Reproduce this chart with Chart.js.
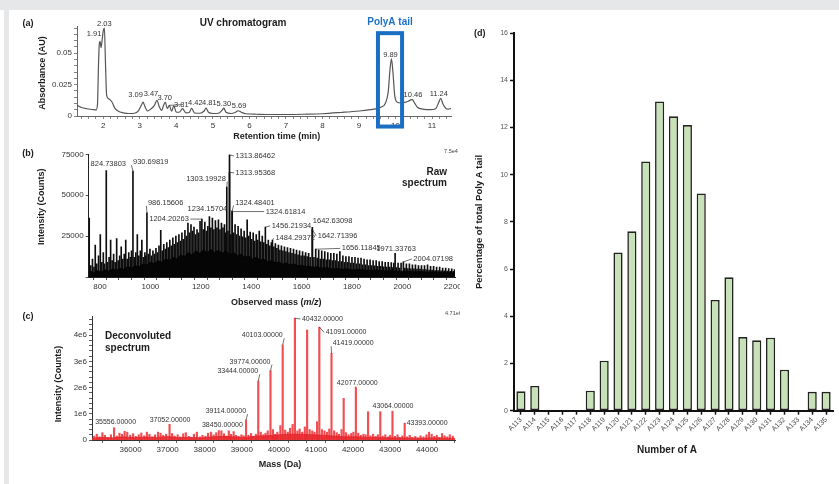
<!DOCTYPE html>
<html>
<head>
<meta charset="utf-8">
<script src="https://cdn.jsdelivr.net/npm/chart.js@4.4.1/dist/chart.umd.min.js"></script>
<style>
  html, body { margin: 0; padding: 0; background: #fff; }
  body { width: 839px; height: 484px; position: relative; overflow: hidden; }
  #band { position: absolute; left: 0; top: 0; width: 839px; height: 10px; background: #e6e7e9; }
  #strip { position: absolute; left: 4px; top: 10px; width: 5px; height: 474px; background: #e6e7e9; }
  canvas { position: absolute; }
</style>
</head>
<body>
<div id="band"></div>
<div id="strip"></div>
<canvas id="cA" width="460" height="135" style="left:0;top:10px;width:460px;height:135px"></canvas>
<canvas id="cB" width="460" height="165" style="left:0;top:145px;width:460px;height:165px"></canvas>
<canvas id="cC" width="460" height="174" style="left:0;top:310px;width:460px;height:174px"></canvas>
<canvas id="cD" width="379" height="474" style="left:460px;top:10px;width:379px;height:474px"></canvas>
<script>
// ---------------- (a) UV chromatogram ----------------
const uvTime = [1.28, 1.40, 1.55, 1.70, 1.80, 1.84, 1.87, 1.89, 1.91, 1.94, 1.97, 2.00, 2.03, 2.06, 2.09, 2.13, 2.19, 2.25, 2.31, 2.40,
  2.55, 2.70, 2.85, 2.96, 3.04, 3.09, 3.14, 3.21, 3.30, 3.40, 3.47, 3.53, 3.60, 3.65, 3.70, 3.75, 3.81, 3.87, 3.93, 4.00,
  4.08, 4.17, 4.26, 4.35, 4.42, 4.50, 4.65, 4.76, 4.81, 4.88, 5.00, 5.15, 5.25, 5.30, 5.36, 5.50, 5.62, 5.69, 5.78, 5.90,
  6.20, 6.60, 7.00, 7.50, 8.00, 8.50, 9.00, 9.40, 9.60, 9.72, 9.80, 9.85, 9.89, 9.93, 9.98, 10.05, 10.15, 10.25, 10.35, 10.42,
  10.46, 10.52, 10.60, 10.75, 10.95, 11.10, 11.18, 11.24, 11.30, 11.38, 11.45, 11.52];
const uvAbs = [0.0085, 0.0068, 0.0058, 0.0052, 0.0048, 0.0090, 0.0420, 0.0570, 0.0595, 0.0545, 0.0610, 0.0680, 0.0700, 0.0420, 0.0170, 0.0140, 0.0128, 0.0105, 0.0065, 0.0040,
  0.0025, 0.0020, 0.0022, 0.0040, 0.0085, 0.0110, 0.0075, 0.0040, 0.0055, 0.0085, 0.0125, 0.0075, 0.0045, 0.0085, 0.0110, 0.0060, 0.0085, 0.0038, 0.0080, 0.0030,
  0.0030, 0.0058, 0.0025, 0.0028, 0.0060, 0.0024, 0.0022, 0.0040, 0.0062, 0.0030, 0.0020, 0.0022, 0.0045, 0.0062, 0.0030, 0.0020, 0.0030, 0.0042, 0.0030, 0.0018,
  0.0014, 0.0012, 0.0012, 0.0014, 0.0018, 0.0028, 0.0040, 0.0055, 0.0070, 0.0100, 0.0190, 0.0370, 0.0455, 0.0350, 0.0160, 0.0110, 0.0105, 0.0108, 0.0118, 0.0128,
  0.0130, 0.0105, 0.0070, 0.0055, 0.0050, 0.0058, 0.0105, 0.0140, 0.0095, 0.0060, 0.0055, 0.0060];
const uvPeakTimes = [1.91, 2.03, 3.09, 3.47, 3.70, 3.81, 4.42, 4.81, 5.30, 5.69, 9.89, 10.46, 11.24];
const uvTimeTickLabels = ['2', '3', '4', '5', '6', '7', '8', '9', '10', '11'];
const uvAbsTickLabels = ['0', '0.025', '0.05'];
const polyAWindow = [9.52, 10.18];

// ---------------- (b) raw mass spectrum ----------------
const rawSticks = [
  [757,36000],[763,7000],[770,11000],[776,6000],[781,19500],[787,8000],[794,13000],[801,26000],[807,9000],[813,15000],
  [818,8000],[824.73803,65000],[830,9000],[836,12000],[842,22500],[848,10000],[854,14000],[860,9000],[866,23500],[872,10000],
  [878,13000],[884,18500],[890,11000],[896,14000],[902,22500],[908,11000],[914,15000],[920,12000],[925,16000],[930.69819,64800],
  [936,12000],[942,15000],[948,26000],[954,13000],[960,16000],[966,22500],[972,12000],[978,15000],[982,13000],[986.15606,39200],
  [992,14000],[998,17000],[1004,13000],[1010,16000],[1016,14000],[1022,17500],[1028,15000],[1034,19000],[1041,28500],[1047,16000],
  [1053,20000],[1059,17000],[1065,21000],[1071,18000],[1077,22500],[1083,19000],[1089,24000],[1095,20000],[1101,25000],[1107,21000],
  [1113,26000],[1119,22000],[1125,27000],[1131,23000],[1137,28500],[1143,25000],[1149,33000],[1155,27000],[1161,32000],[1167,28000],
  [1173,30500],[1179,26000],[1185,29000],[1191,27000],[1197,34000],[1204.20263,35400],[1210,29000],[1216,33500],[1222,28000],[1228,31000],
  [1234.15704,37000],[1240,30000],[1246,36000],[1252,29000],[1258,34500],[1264,30000],[1270,35000],[1276,29000],[1282,33000],[1288,30000],
  [1294,32000],[1298,27000],[1303.19928,55000],[1308,28000],[1313.86462,74600],[1313.95368,64000],[1319,26000],[1324.48401,40500],[1324.61814,40000],[1330,27000],
  [1336,32000],[1342,26000],[1348,31000],[1354,25000],[1360,29500],[1366,24500],[1372,28000],[1378,24000],[1384,35000],[1390,25000],
  [1396,27500],[1402,23000],[1408,27000],[1414,22000],[1420,26000],[1426,22500],[1432,28000],[1438,21500],[1444,25000],[1450,21000],
  [1456.21934,30500],[1462,20000],[1468,22500],[1474,19000],[1480,21000],[1484.29372,22500],[1490,18500],[1496,20500],[1502,17500],[1508,19500],
  [1514,16500],[1520,19000],[1526,16000],[1532,18500],[1538,15500],[1544,18000],[1550,15000],[1556,17500],[1562,14500],[1568,17000],
  [1574,14000],[1580,16500],[1586,13500],[1592,16000],[1598,13000],[1604,15500],[1610,13000],[1616,15000],[1622,12500],[1628,14500],
  [1634,12000],[1642.63098,30300],[1642.71396,29000],[1649,12000],[1656.11845,17000],[1662,11500],[1668,16500],[1674,11000],[1680,16000],[1686,11000],
  [1692,15500],[1698,10500],[1704,15000],[1710,10500],[1716,14500],[1722,10000],[1728,14500],[1734,10000],[1740,14000],[1746,9500],
  [1752,15500],[1758,9500],[1764,13000],[1770,9000],[1776,12500],[1782,9000],[1788,12500],[1794,8500],[1800,12000],[1806,8500],
  [1812,12000],[1818,8000],[1824,11500],[1830,8000],[1836,11500],[1842,7500],[1848,11000],[1854,7500],[1860,10500],[1866,7000],
  [1872,10500],[1878,7000],[1884,10000],[1890,6800],[1896,10000],[1902,6500],[1908,9500],[1914,6500],[1920,9500],[1926,6200],
  [1932,9000],[1938,6000],[1944,9000],[1950,6000],[1956,8800],[1962,5800],[1966,8500],[1971.33763,14400],[1977,5800],[1983,8500],
  [1989,5500],[1995,8500],[2004.07198,9200],[2010,5500],[2016,8000],[2022,5200],[2028,8000],[2034,5000],[2040,7500],[2046,5000],
  [2052,7500],[2058,4800],[2064,7000],[2070,4800],[2076,7000],[2082,4500],[2088,7000],[2094,4500],[2100,7500],[2106,4200],
  [2112,6500],[2118,4200],[2124,6500],[2130,4000],[2136,6000],[2142,4000],[2148,6000],[2154,3800],[2160,5500],[2166,3800],
  [2172,5500],[2178,3600],[2184,5200],[2190,3500],[2196,5000],[2202,3500],[2207,4500]
];
const rawFloor = [
  [755,1500],[765,3500],[775,2500],[790,4000],[805,3000],[820,4500],[835,3500],[850,5000],[865,4200],[880,5500],
  [895,4800],[910,6500],[925,5500],[940,7000],[955,6200],[970,8000],[985,7200],[1000,9000],[1015,8200],[1030,10000],
  [1045,9200],[1060,11000],[1075,10200],[1090,12000],[1105,11200],[1120,13500],[1135,12500],[1150,15000],[1165,13500],[1180,16000],
  [1195,14500],[1210,16500],[1225,15000],[1240,17000],[1255,15000],[1270,16500],[1285,14500],[1300,16000],[1315,13500],[1330,15000],
  [1345,13000],[1360,14000],[1375,12000],[1390,13000],[1405,11000],[1420,12000],[1435,10500],[1450,11000],[1465,9500],[1480,10000],
  [1495,8800],[1510,9000],[1525,8000],[1540,8500],[1555,7500],[1570,8000],[1585,7000],[1600,7200],[1615,6500],[1630,6800],
  [1645,6000],[1660,6300],[1680,5500],[1700,5800],[1720,5000],[1740,5300],[1760,4700],[1780,5000],[1800,4400],[1830,4700],
  [1860,4100],[1890,4300],[1920,3800],[1950,4000],[1980,3500],[2010,3700],[2040,3200],[2070,3400],[2100,3000],[2130,3200],
  [2160,2800],[2190,3000],[2209,2600]
];
const rawLabelMz = ['824.73803', '930.69819', '986.15606', '1204.20263', '1234.15704', '1303.19928', '1313.86462', '1313.95368',
  '1324.48401', '1324.61814', '1456.21934', '1484.29372', '1642.63098', '1642.71396', '1656.11845', '1971.33763', '2004.07198'];
const rawMzTickLabels = ['800', '1000', '1200', '1400', '1600', '1800', '2000', '2200'];
const rawCountTickLabels = ['25000', '50000', '75000'];

// ---------------- (c) deconvoluted spectrum ----------------
const deconvPeaks = [[35556,470000],[37052,600000],[38450,350000],[39114,760000],[39444,2250000],[39774,2650000],[40103,3630000],
  [40432,4650000],[40762,4200000],[41091,4310000],[41419,3310000],[41748,1590000],[42077,2020000],[42406,1080000],[42735,1080000],
  [43064,1100000],[43393,640000]];
const deconvNoise = [
  [35020,150000],[35090,220000],[35160,120000],[35240,280000],[35310,180000],[35390,100000],[35470,200000],[35630,150000],[35700,260000],[35770,220000],
  [35840,330000],[35910,300000],[35990,180000],[36070,240000],[36140,140000],[36220,200000],[36290,270000],[36370,160000],[36440,300000],[36510,220000],
  [36590,120000],[36660,200000],[36740,300000],[36810,260000],[36880,180000],[36960,220000],[37120,250000],[37190,150000],[37270,200000],[37340,120000],
  [37420,240000],[37490,280000],[37570,140000],[37640,100000],[37710,220000],[37790,300000],[37870,120000],[37940,180000],[38020,150000],[38090,260000],
  [38170,300000],[38240,200000],[38310,280000],[38380,360000],[38520,240000],[38590,150000],[38650,350000],[38710,220000],[38780,320000],[38840,180000],
  [38910,140000],[38990,200000],[39050,160000],[39180,180000],[39250,250000],[39310,140000],[39380,220000],[39510,300000],[39580,200000],[39640,260000],
  [39700,350000],[39840,400000],[39900,220000],[39960,300000],[40040,550000],[40170,380000],[40240,300000],[40300,450000],[40370,600000],[40500,350000],
  [40560,420000],[40630,300000],[40700,500000],[40830,400000],[40900,350000],[40960,300000],[41030,700000],[41160,400000],[41230,350000],[41300,300000],
  [41360,420000],[41490,350000],[41560,280000],[41620,220000],[41690,400000],[41810,280000],[41880,200000],[41950,250000],[42010,300000],[42140,260000],
  [42210,180000],[42280,220000],[42340,200000],[42470,160000],[42540,220000],[42610,140000],[42670,200000],[42800,150000],[42870,200000],[42940,120000],
  [43000,180000],[43130,140000],[43200,200000],[43260,100000],[43330,160000],[43460,120000],[43530,180000],[43600,100000],[43680,140000],[43750,80000],
  [43820,160000],[43900,120000],[43980,200000],[44050,300000],[44120,220000],[44190,140000],[44260,180000],[44330,100000],[44400,250000],[44470,160000],
  [44540,120000],[44610,200000],[44690,150000]
];
const deconvFloor = [[34960,60000],[35200,100000],[35500,80000],[35800,120000],[36100,90000],[36400,110000],[36700,100000],[37000,130000],
  [37300,90000],[37600,100000],[37900,80000],[38200,120000],[38500,140000],[38800,120000],[39100,100000],[39400,150000],[39700,160000],
  [40000,200000],[40300,220000],[40600,220000],[40900,200000],[41200,180000],[41500,150000],[41800,120000],[42100,120000],[42400,100000],
  [42700,90000],[43000,80000],[43300,80000],[43600,70000],[43900,70000],[44200,80000],[44500,70000],[44750,60000]];
const deconvLabelMass = [35556, 37052, 38450, 39114, 39444, 39774, 40103, 40432, 41091, 41419, 42077, 43064, 43393];
const deconvLabelText = ['35556.00000', '37052.00000', '38450.00000', '39114.00000', '33444.00000', '39774.00000', '40103.00000',
  '40432.00000', '41091.00000', '41419.00000', '42077.00000', '43064.00000', '43393.00000'];
const massTickLabels = ['36000', '37000', '38000', '39000', '40000', '41000', '42000', '43000', '44000'];
const deconvCountTickLabels = ['0', '1e6', '2e6', '3e6', '4e6'];
const deconvCountTickValues = [0, 1e6, 2e6, 3e6, 4e6];

// ---------------- (d) poly(A) length distribution ----------------
const polyACategories = ['A113', 'A114', 'A115', 'A116', 'A117', 'A118', 'A119', 'A120', 'A121', 'A122', 'A123', 'A124',
  'A125', 'A126', 'A127', 'A128', 'A129', 'A130', 'A131', 'A132', 'A133', 'A134', 'A135'];
const polyAPercent = [0.82, 1.05, 0, 0, 0, 0.85, 2.12, 6.70, 7.60, 10.56, 13.10, 12.47,
  12.10, 9.20, 4.69, 5.65, 3.12, 2.98, 3.09, 1.74, 0, 0.80, 0.80];
const percentTickLabels = ['0', '2', '4', '6', '8', '10', '12', '14', '16'];

// ---------------- shared helpers ----------------
const FONT = "'Liberation Sans', Arial, Helvetica, sans-serif";
Chart.defaults.font.family = FONT;

function range(a, b, step) {
  const out = [];
  for (let v = a; v <= b + 1e-9; v += step) out.push(Math.round(v * 1e6) / 1e6);
  return out;
}
// tick set: labelled major values plus unlabelled minor marks
function tickSet(labels, values, minors) {
  const map = new Map();
  values.forEach((v, i) => map.set(v, labels[i]));
  const all = Array.from(new Set(values.concat(minors || []))).sort((p, q) => p - q);
  return { values: all, label: v => (map.has(v) ? map.get(v) : '') };
}
function setTicks(values) { return s => { s.ticks = values.map(v => ({ value: v })); }; }
function sizeBox(size) {
  return s => {
    if (s.isHorizontal()) s.height = size; else s.width = size;
    s.paddingLeft = 0; s.paddingRight = 0; s.paddingTop = 0; s.paddingBottom = 0;
  };
}
function drawText(ctx, o, ox, oy) {
  const parts = o.parts || [{ t: o.t, f: o.f }];
  ctx.save();
  ctx.translate(o.x - ox, o.y - oy);
  if (o.rot) ctx.rotate(o.rot);
  ctx.fillStyle = o.color || '#1c1c1c';
  ctx.textBaseline = 'middle';
  ctx.textAlign = 'left';
  const widths = parts.map(p => { ctx.font = p.f; return ctx.measureText(p.t).width; });
  const total = widths.reduce((a, b) => a + b, 0);
  let x = o.align === 'right' ? -total : (o.align === 'left' ? 0 : -total / 2);
  parts.forEach((p, i) => { ctx.font = p.f; ctx.fillText(p.t, x, 0); x += widths[i]; });
  ctx.restore();
}
function drawPeakLabels(ctx, chart, items, font, color) {
  const xs = chart.scales.x, ys = chart.scales.y;
  ctx.save();
  ctx.font = font; ctx.fillStyle = color; ctx.strokeStyle = color; ctx.lineWidth = 0.7;
  ctx.textBaseline = 'middle';
  items.forEach(it => {
    const px = xs.getPixelForValue(it.x), py = ys.getPixelForValue(it.y);
    const tx = px + it.dx, ty = py + it.dy;
    ctx.textAlign = it.align;
    ctx.fillText(it.text, tx, ty);
    if (it.lead) {
      const ex = it.align === 'left' ? tx - 1.5 : (it.align === 'right' ? tx + 1.5 : tx);
      const ey = it.dy < -4 ? ty + 3 : ty;
      ctx.beginPath(); ctx.moveTo(px, py); ctx.lineTo(ex, ey); ctx.stroke();
    }
  });
  ctx.restore();
}
function decor(name, offset, draw) {
  return { id: 'decor' + name, afterDraw(chart) { draw(chart.ctx, chart, offset[0], offset[1]); } };
}
const TITLE = 'bold 10px ' + FONT;
const AXIS_TITLE = 'bold 9px ' + FONT;
const PEAK_FONT = '7.5px ' + FONT;
const baseOptions = (padding) => ({
  responsive: false, animation: false, events: [],
  layout: { padding },
  plugins: { legend: { display: false }, tooltip: { enabled: false } }
});
const thinAxis = (color) => ({
  grid: { drawOnChartArea: false, tickLength: 3, tickColor: color, tickWidth: 0.8 },
  border: { color, width: 1 }
});

// label placement (pixel nudges relative to each labelled peak)
const uvLabelPlace = [[-6, -7, 'center', 0], [0, -4.5, 'center', 0], [-7.5, -7.6, 'center', 0], [-6, -6, 'center', 0],
  [-0.7, -4.2, 'center', 0], [12, -0.7, 'center', 1], [3.6, -6, 'center', 0], [3.4, -5.6, 'center', 0],
  [0, -3.8, 'center', 0], [1, -5, 'center', 0], [-1, -4.4, 'center', 0], [0.7, -4.5, 'center', 0], [-2, -4, 'center', 0]];
const rawLabelPlace = [[2, -6.4, 'center', 0], [0, -8.7, 'left', 1], [1, -10, 'left', 1], [-13, 0, 'right', 1],
  [-2, -7.8, 'center', 0], [-1, -8.5, 'right', 1], [6, 1, 'left', 1], [6, 0.5, 'left', 1], [3, -8.3, 'left', 1],
  [33.5, 0, 'left', 1], [6.3, -1.3, 'left', 1], [3, -2, 'left', 1], [0.5, -6, 'left', 0], [5.4, 6.3, 'left', 1],
  [26, -0.8, 'left', 1], [1, -5, 'center', 0], [10, -3, 'left', 1]];
const deconvLabelPlace = [[1.5, -5.4, 'center', 0], [0.5, -4.6, 'center', 0], [1, -5.8, 'center', 0], [0, -9, 'right', 1],
  [0, -9.7, 'right', 1], [0, -9, 'right', 1], [0, -9.6, 'right', 1], [7, 0.8, 'left', 1], [6.3, 5.2, 'left', 1],
  [1.2, -10, 'left', 1], [1.4, -4.5, 'center', 0], [0.5, -5, 'center', 0], [2, 0, 'left', 1]];

function placed(texts, xs, ys, place) {
  return texts.map((t, i) => ({ text: t, x: xs[i], y: ys[i], dx: place[i][0], dy: place[i][1], align: place[i][2], lead: place[i][3] }));
}

// ================= chart (a) =================
const uvX = tickSet(uvTimeTickLabels, uvTimeTickLabels.map(Number), range(1.4, 11.4, 0.2));
const uvY = tickSet(uvAbsTickLabels, uvAbsTickLabels.map(Number), range(0, 0.07, 0.005));
const uvPeakAbs = uvPeakTimes.map(t => uvAbs[uvTime.indexOf(t)]);
new Chart(document.getElementById('cA'), {
  type: 'line',
  data: { datasets: [{
    data: uvTime.map((t, i) => ({ x: t, y: uvAbs[i] })),
    borderColor: '#555', borderWidth: 1.2, pointRadius: 0, cubicInterpolationMode: 'monotone', fill: false
  }] },
  options: Object.assign(baseOptions({ left: 0, top: 16, right: 9, bottom: 0 }), {
    scales: {
      x: Object.assign({ type: 'linear', min: 1.28, max: 11.52, afterBuildTicks: setTicks(uvX.values), afterFit: sizeBox(29),
        ticks: { autoSkip: false, maxRotation: 0, padding: 2, font: { size: 8 }, color: '#333', callback: uvX.label } }, thinAxis('#666')),
      y: Object.assign({ type: 'linear', min: 0, max: 0.0717, afterBuildTicks: setTicks(uvY.values), afterFit: sizeBox(77),
        ticks: { autoSkip: false, padding: 2, font: { size: 8 }, color: '#333', callback: uvY.label } }, thinAxis('#666'))
    }
  }),
  plugins: [decor('A', [0, 10], (ctx, chart, ox, oy) => {
    drawPeakLabels(ctx, chart, placed(uvPeakTimes.map(t => t.toFixed(2)), uvPeakTimes, uvPeakAbs, uvLabelPlace), PEAK_FONT, '#333');
    const xs = chart.scales.x, ys = chart.scales.y;
    const l = xs.getPixelForValue(polyAWindow[0]), r = xs.getPixelForValue(polyAWindow[1]);
    const t = ys.getPixelForValue(0.066), b = ys.getPixelForValue(-0.0084);
    ctx.save();
    ctx.strokeStyle = '#1a6fc2'; ctx.lineWidth = 4; ctx.strokeRect(l, t, r - l, b - t);
    ctx.restore();
    drawText(ctx, { t: 'PolyA tail', f: TITLE, color: '#1f73c4', x: (l + r) / 2, y: t - 11 + oy }, ox, oy);
    [
      { t: '(a)', f: 'bold 9px ' + FONT, x: 28, y: 24 },
      { t: 'UV chromatogram', f: TITLE, x: 243, y: 23.7 },
      { t: 'Absorbance (AU)', f: AXIS_TITLE, x: 43, y: 73, rot: -Math.PI / 2 },
      { t: 'Retention time (min)', f: AXIS_TITLE, x: 276.7, y: 136.7 }
    ].forEach(o => drawText(ctx, o, ox, oy));
  })]
});

// ================= chart (b) =================
const rawX = tickSet(rawMzTickLabels, rawMzTickLabels.map(Number), range(800, 2200, 50));
const rawY = tickSet(rawCountTickLabels, rawCountTickLabels.map(Number), [0]);
const rawLabelX = rawLabelMz.map(Number);
const rawLabelY = rawLabelX.map(m => rawSticks.find(p => p[0] === m)[1]);
new Chart(document.getElementById('cB'), {
  type: 'line',
  data: { datasets: [
    { type: 'line', data: rawFloor.map(([x, y]) => ({ x, y })), borderColor: '#000', borderWidth: 0.6,
      backgroundColor: '#050505', fill: 'origin', pointRadius: 0, tension: 0 },
    { type: 'bar', data: rawSticks.map(([x, y]) => ({ x, y })), backgroundColor: '#0d0d0d', borderWidth: 0, barThickness: 1 }
  ] },
  options: Object.assign(baseOptions({ left: 0, top: 9.3, right: 5, bottom: 0 }), {
    scales: {
      x: Object.assign({ type: 'linear', min: 755, max: 2209, offset: false, afterBuildTicks: setTicks(rawX.values), afterFit: sizeBox(33),
        ticks: { autoSkip: false, maxRotation: 0, padding: 2, font: { size: 8 }, color: '#333', callback: rawX.label } }, thinAxis('#222')),
      y: Object.assign({ type: 'linear', min: 0, max: 75000, afterBuildTicks: setTicks(rawY.values), afterFit: sizeBox(88.7),
        ticks: { autoSkip: false, padding: 2, font: { size: 8 }, color: '#333', callback: rawY.label } }, thinAxis('#222'))
    }
  }),
  plugins: [decor('B', [0, 145], (ctx, chart, ox, oy) => {
    drawPeakLabels(ctx, chart, placed(rawLabelMz, rawLabelX, rawLabelY, rawLabelPlace), PEAK_FONT, '#333');
    const ital = 'italic bold 9px ' + FONT;
    [
      { t: '(b)', f: 'bold 9px ' + FONT, x: 28, y: 154 },
      { t: '7.5e4', f: '5.5px ' + FONT, x: 451, y: 151, color: '#444' },
      { t: 'Raw', f: TITLE, x: 447, y: 172, align: 'right' },
      { t: 'spectrum', f: TITLE, x: 447, y: 183.5, align: 'right' },
      { t: 'Intensity (Counts)', f: AXIS_TITLE, x: 41.7, y: 206.7, rot: -Math.PI / 2 },
      { parts: [{ t: 'Observed mass (', f: AXIS_TITLE }, { t: 'm/z', f: ital }, { t: ')', f: AXIS_TITLE }], x: 276.3, y: 302.7 }
    ].forEach(o => drawText(ctx, o, ox, oy));
  })]
});

// ================= chart (c) =================
const massX = tickSet(massTickLabels, massTickLabels.map(Number), range(35000, 44500, 500));
const countY = tickSet(deconvCountTickLabels, deconvCountTickValues, range(0, 4600000, 200000));
const deconvLabelY = deconvLabelMass.map(m => deconvPeaks.find(p => p[0] === m)[1]);
const deconvSticks = deconvPeaks.concat(deconvNoise).sort((p, q) => p[0] - q[0]);
new Chart(document.getElementById('cC'), {
  type: 'line',
  data: { datasets: [
    { type: 'line', data: deconvFloor.map(([x, y]) => ({ x, y })), borderColor: '#e5262c', borderWidth: 0.8,
      backgroundColor: 'rgba(232,38,44,0.85)', fill: 'origin', pointRadius: 0, tension: 0 },
    { type: 'bar', data: deconvSticks.map(([x, y]) => ({ x, y })), backgroundColor: 'rgba(238,48,54,0.85)', borderWidth: 0, barThickness: 1.5 }
  ] },
  options: Object.assign(baseOptions({ left: 0, top: 6.9, right: 5, bottom: 0 }), {
    scales: {
      x: Object.assign({ type: 'linear', min: 34960, max: 44750, offset: false, afterBuildTicks: setTicks(massX.values), afterFit: sizeBox(44),
        ticks: { autoSkip: false, maxRotation: 0, padding: 2, font: { size: 8 }, color: '#333', callback: massX.label } }, thinAxis('#333')),
      y: Object.assign({ type: 'linear', min: 0, max: 4700000, afterBuildTicks: setTicks(countY.values), afterFit: sizeBox(92),
        ticks: { autoSkip: false, padding: 2, font: { size: 8 }, color: '#333', callback: countY.label } }, thinAxis('#333'))
    }
  }),
  plugins: [decor('C', [0, 310], (ctx, chart, ox, oy) => {
    drawPeakLabels(ctx, chart, placed(deconvLabelText, deconvLabelMass, deconvLabelY, deconvLabelPlace), '7px ' + FONT, '#333');
    [
      { t: '(c)', f: 'bold 9px ' + FONT, x: 28, y: 316.7 },
      { t: '4.71e6', f: '5.5px ' + FONT, x: 445, y: 313.5, align: 'left', color: '#444' },
      { t: 'Deconvoluted', f: TITLE, x: 105, y: 336, align: 'left' },
      { t: 'spectrum', f: TITLE, x: 105, y: 348, align: 'left' },
      { t: 'Intensity (Counts)', f: AXIS_TITLE, x: 58.3, y: 384, rot: -Math.PI / 2 },
      { t: 'Mass (Da)', f: AXIS_TITLE, x: 280, y: 464.3 }
    ].forEach(o => drawText(ctx, o, ox, oy));
  })]
});

// ================= chart (d) =================
const pctY = tickSet(percentTickLabels, percentTickLabels.map(Number), []);
new Chart(document.getElementById('cD'), {
  type: 'bar',
  data: { labels: polyACategories, datasets: [{
    data: polyAPercent, backgroundColor: '#c6e2b6', borderColor: '#232323',
    borderWidth: ctx => (ctx.raw === 0 ? 0 : 1.6), borderSkipped: false,
    categoryPercentage: 1, barPercentage: 0.66
  }] },
  options: Object.assign(baseOptions({ left: 0, top: 23, right: 6, bottom: 0 }), {
    scales: {
      x: { type: 'category', offset: true, afterFit: sizeBox(73.3),
        grid: { drawOnChartArea: false, offset: false, tickLength: 4, tickColor: '#111', tickWidth: 1.5 },
        border: { color: '#111', width: 2 },
        ticks: { autoSkip: false, minRotation: 45, maxRotation: 45, padding: 1, font: { size: 7 }, color: '#444' } },
      y: { type: 'linear', min: 0, max: 16, afterBuildTicks: setTicks(pctY.values), afterFit: sizeBox(54),
        grid: { drawOnChartArea: false, tickLength: 4, tickColor: '#111', tickWidth: 1.5 },
        border: { color: '#111', width: 2 },
        ticks: { autoSkip: false, padding: 2, font: { size: 7 }, color: '#555', callback: pctY.label } }
    }
  }),
  plugins: [decor('D', [460, 10], (ctx, chart, ox, oy) => {
    [
      { t: '(d)', f: 'bold 9px ' + FONT, x: 479.7, y: 33.3 },
      { t: 'Percentage of total Poly A tail', f: 'bold 9.5px ' + FONT, x: 479.5, y: 222, rot: -Math.PI / 2 },
      { t: 'Number of A', f: 'bold 10px ' + FONT, x: 667, y: 450 }
    ].forEach(o => drawText(ctx, o, ox, oy));
  })]
});
</script>
</body>
</html>
